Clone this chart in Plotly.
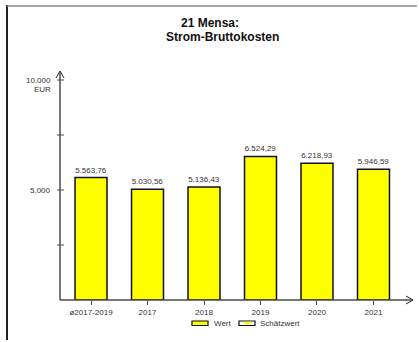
import plotly.graph_objects as go

categories = ["ø2017-2019", "2017", "2018", "2019", "2020", "2021"]
values = [5563.76, 5030.56, 5136.43, 6524.29, 6218.93, 5946.59]
value_labels = ["5.563,76", "5.030,56", "5.136,43", "6.524,29", "6.218,93", "5.946,59"]
y_label_vals = [5000, 10000]
y_label_text = ["5.000", "10.000"]
y_tick_vals = [2500, 5000, 7500, 10000]
unit = "EUR"
title_lines = ["21 Mensa:", "Strom-Bruttokosten"]
legend_names = ["Wert", "Schätzwert"]

W, H = 419, 342
L, R, T, B = 60, 411, 72, 300
FONT = "Liberation Sans, Arial, sans-serif"
AX = "#4a4a4a"

def px(x):
    return (x - L) / (R - L)

def py(y):
    return (B - y) / (B - T)

fig = go.Figure()
fig.add_trace(go.Bar(
    x=categories, y=values, text=value_labels, textposition="outside",
    textfont=dict(size=8, color="#333333", family=FONT),
    marker=dict(color="#FFFF00", line=dict(color="#111111", width=1.5)),
    width=0.566, cliponaxis=False, showlegend=False, hoverinfo="skip",
))

shapes = []
# outer frame
shapes.append(dict(type="line", xref="paper", yref="paper", x0=px(7), x1=px(7), y0=py(5), y1=py(340),
                   line=dict(color="#222222", width=2)))
shapes.append(dict(type="line", xref="paper", yref="paper", x0=px(7), x1=px(417), y0=py(6), y1=py(6),
                   line=dict(color="#888888", width=1.5)))
# y axis with arrow
shapes.append(dict(type="path", xref="paper", yref="paper",
                   path=f"M {px(56)},{py(78)} L {px(60)},{py(71)} L {px(64)},{py(78)}",
                   line=dict(color="#222222", width=1)))
shapes.append(dict(type="line", xref="paper", yref="paper", x0=px(60), x1=px(60), y0=py(300), y1=py(71),
                   line=dict(color=AX, width=1.5)))
# x axis with arrow
shapes.append(dict(type="path", xref="paper", yref="paper",
                   path=f"M {px(406)},{py(296)} L {px(413)},{py(300)} L {px(406)},{py(304)}",
                   line=dict(color="#222222", width=1)))
shapes.append(dict(type="line", xref="paper", yref="paper", x0=px(60), x1=px(413), y0=py(300), y1=py(300),
                   line=dict(color=AX, width=1.5)))
# y ticks crossing the axis
for v in y_tick_vals:
    shapes.append(dict(type="line", xref="paper", yref="y", x0=px(57), x1=px(64), y0=v, y1=v,
                       line=dict(color=AX, width=1)))

annotations = []
for v, t in zip(y_label_vals, y_label_text):
    annotations.append(dict(xref="paper", yref="y", x=px(53), y=v, text=t, showarrow=False,
                            xanchor="right", yanchor="middle", font=dict(size=8, color="#333333", family=FONT)))
annotations.append(dict(xref="paper", yref="y", x=px(53), y=y_label_vals[-1], yshift=-9, text=unit, showarrow=False,
                        xanchor="right", yanchor="middle", font=dict(size=8, color="#333333", family=FONT)))
# title
annotations.append(dict(xref="paper", yref="paper", x=px(210), y=py(23), text="<b>" + title_lines[0] + "</b>",
                        showarrow=False, xanchor="center", yanchor="middle",
                        font=dict(size=12, color="#111111", family=FONT)))
annotations.append(dict(xref="paper", yref="paper", x=px(222), y=py(37), text="<b>" + title_lines[1] + "</b>",
                        showarrow=False, xanchor="center", yanchor="middle",
                        font=dict(size=12, color="#111111", family=FONT)))
# legend
shapes.append(dict(type="rect", xref="paper", yref="paper", x0=px(192), x1=px(208), y0=py(321), y1=py(325.5),
                   fillcolor="#FFFF00", line=dict(color="#111111", width=1.2)))
annotations.append(dict(xref="paper", yref="paper", x=px(212), y=py(323.5), text=legend_names[0], showarrow=False,
                        xanchor="left", yanchor="middle", font=dict(size=8, color="#333333", family=FONT)))
shapes.append(dict(type="rect", xref="paper", yref="paper", x0=px(239), x1=px(255), y0=py(321), y1=py(325.5),
                   fillcolor="#FFFFFF", line=dict(color="#111111", width=1.2)))
shapes.append(dict(type="path", xref="paper", yref="paper",
                   path=f"M {px(243)},{py(322)} L {px(247)},{py(324.5)} L {px(252)},{py(322)} Z",
                   fillcolor="#FFFF00", line=dict(color="#E8E800", width=0.5)))
annotations.append(dict(xref="paper", yref="paper", x=px(258), y=py(323.5), text=legend_names[1], showarrow=False,
                        xanchor="left", yanchor="middle", font=dict(size=8, color="#333333", family=FONT)))

fig.update_layout(
    width=W, height=H, margin=dict(l=L, r=W - R, t=T, b=H - B),
    paper_bgcolor="white", plot_bgcolor="white",
    font=dict(family=FONT, size=8, color="#333333"),
    shapes=shapes, annotations=annotations, showlegend=False, bargap=0.4,
    xaxis=dict(type="category", range=[-0.549, 5.664], showline=False, showgrid=False, zeroline=False,
               ticks="outside", ticklen=4, tickcolor=AX, tickwidth=1,
               tickfont=dict(size=8, color="#333333", family=FONT), fixedrange=True),
    yaxis=dict(range=[0, 10364], showline=False, showgrid=False, zeroline=False, showticklabels=False,
               ticks="", fixedrange=True),
)
fig.write_html("out.html", config={"displayModeBar": False},
               post_script="document.documentElement.style.overflow='hidden';document.body.style.margin='0';"
                           "document.body.style.overflow='hidden';")
